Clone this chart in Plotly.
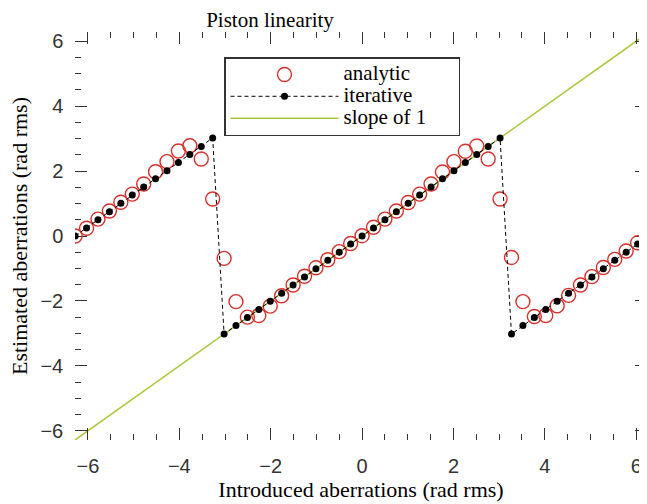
import plotly.graph_objects as go

# Introduced aberration (rad rms) for each sample
x_introduced = [-6.28, -6.03, -5.78, -5.53, -5.28, -5.03, -4.78, -4.52, -4.27, -4.02,
                -3.77, -3.52, -3.27, -3.02, -2.76, -2.51, -2.26, -2.01, -1.76, -1.51,
                -1.26, -1.01, -0.75, -0.50, -0.25, 0.00, 0.25, 0.50, 0.75, 1.01,
                1.26, 1.51, 1.76, 2.01, 2.26, 2.51, 2.76, 3.02, 3.27, 3.52,
                3.77, 4.02, 4.27, 4.52, 4.78, 5.03, 5.28, 5.53, 5.78, 6.03, 6.28]

# Estimated aberration, analytic method
y_analytic = [0.00, 0.24, 0.52, 0.77, 1.04, 1.29, 1.60, 1.98, 2.29, 2.62,
              2.78, 2.37, 1.14, -0.69, -2.02, -2.50, -2.45, -2.16, -1.84, -1.51,
              -1.24, -0.98, -0.73, -0.48, -0.23, 0.01, 0.27, 0.52, 0.77, 1.03,
              1.29, 1.60, 1.97, 2.29, 2.61, 2.77, 2.37, 1.14, -0.66, -2.02,
              -2.48, -2.45, -2.15, -1.83, -1.51, -1.25, -0.97, -0.72, -0.46, -0.21, 0.02]

# Estimated aberration, iterative method
y_iterative = [0.00, 0.25, 0.50, 0.75, 1.01, 1.26, 1.51, 1.76, 2.01, 2.26,
               2.51, 2.76, 3.02, -3.02, -2.76, -2.51, -2.26, -2.01, -1.76, -1.51,
               -1.26, -1.01, -0.75, -0.50, -0.25, 0.00, 0.25, 0.50, 0.75, 1.01,
               1.26, 1.51, 1.76, 2.01, 2.26, 2.51, 2.76, 3.02, -3.02, -2.76,
               -2.51, -2.26, -2.01, -1.76, -1.51, -1.26, -1.01, -0.75, -0.50, -0.25, 0.00]

# Reference line of slope 1
slope_x = [-6.2832, 6.2832]
slope_y = [-6.2832, 6.2832]

SERIF = "Liberation Serif, Times New Roman, serif"
SANS = "Liberation Sans, Arial, sans-serif"


def legend_label(text, pad=0):
    return '<span style="font-size:21px">' + text + "\u00a0" * pad + "</span>"


fig = go.Figure()
fig.add_trace(go.Scatter(
    x=x_introduced, y=y_analytic, mode="markers", name=legend_label("analytic"),
    marker=dict(symbol="circle-open", size=14, color="#d8302c", line=dict(width=1.4)),
    zorder=1))
fig.add_trace(go.Scatter(
    x=x_introduced, y=y_iterative, mode="lines+markers", name=legend_label("iterative"),
    line=dict(color="black", width=1, dash="4px,3px"),
    marker=dict(size=7, color="black"),
    zorder=2))
fig.add_trace(go.Scatter(
    x=slope_x, y=slope_y, mode="lines", name=legend_label("slope of 1", 5),
    line=dict(color="#a8c83a", width=1.5),
    zorder=0))

axis_common = dict(
    showline=True, linecolor="#333", linewidth=1.5, mirror="ticks",
    ticks="inside", ticklen=12, tickwidth=1, tickcolor="#333",
    tick0=0, dtick=2,
    minor=dict(dtick=0.5, ticklen=6, ticks="inside", tickcolor="#333", tickwidth=1, showgrid=False),
    showgrid=False, zeroline=False,
    tickfont=dict(family=SANS, size=20, color="#333"),
)

fig.update_xaxes(
    range=[-6.2832, 6.236], ticklabelstandoff=7,
    title=dict(text="Introduced aberrations (rad rms)", standoff=1,
               font=dict(family=SERIF, size=22, color="black")),
    **axis_common)
fig.update_yaxes(
    range=[-6.2832, 6.2832], ticklabelstandoff=6,
    **axis_common)

# page body has an 8px margin; figure is sized so the plot fills the 647x504 view
fig.update_layout(
    width=639, height=496,
    margin=dict(l=67, r=0, t=24, b=64, autoexpand=False),
    plot_bgcolor="white", paper_bgcolor="white",
    title=dict(text="Piston linearity", x=262 / 639, xref="container", xanchor="center",
               y=1 - 12 / 496, yref="container", yanchor="middle",
               font=dict(family=SERIF, size=21, color="black")),
    legend=dict(x=0.2605, y=0.9387, xanchor="left", yanchor="top",
                bordercolor="#333", borderwidth=1.5, bgcolor="white",
                font=dict(family=SERIF, size=14.5, color="black"),
                itemwidth=108),
    showlegend=True,
    annotations=[dict(
        text="Estimated aberrations (rad rms)", textangle=-90,
        xref="paper", yref="paper", x=(11 - 67) / 572, y=0.5,
        xanchor="center", yanchor="middle", showarrow=False,
        font=dict(family=SERIF, size=22, color="black"))],
)

fig.write_html("out.html")
